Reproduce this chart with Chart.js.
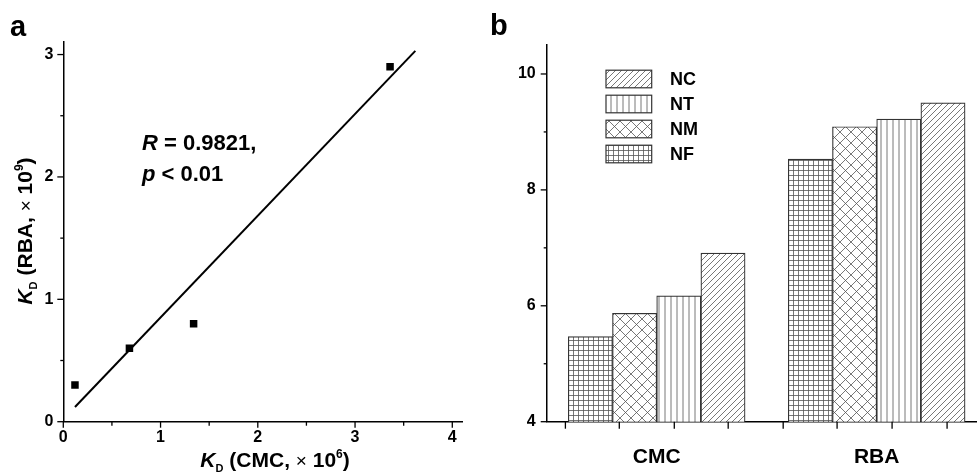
<!DOCTYPE html>
<html>
<head>
<meta charset="utf-8">
<script src="https://cdn.jsdelivr.net/npm/chart.js@4.4.0/dist/chart.umd.min.js"></script>
<style>
  body { margin: 0; background: #fff; }
  #wrap { position: relative; width: 977px; height: 476px; }
  canvas { position: absolute; top: 0; }
</style>
</head>
<body>
<div id="wrap">
  <canvas id="chartA" width="488" height="476" style="left:0"></canvas>
  <canvas id="chartB" width="489" height="476" style="left:488px"></canvas>
</div>
<script>
// ---- panel a : KD by CMC vs KD by RBA
const kdCmc = [0.12, 0.68, 1.34, 3.36];
const kdRba = [0.30, 0.60, 0.80, 2.90];
const fitX = [0.12, 3.62];
const fitY = [0.12, 3.03];
const aXTicks = [0, 1, 2, 3, 4];
const aXMinor = [0.5, 1.5, 2.5, 3.5];
const aYTicks = [0, 1, 2, 3];
const aYMinor = [0.5, 1.5, 2.5];

// ---- panel b : -lg kD per method
const methods = ['CMC', 'RBA'];
const methodPos = [1, 3];
const groups = ['NF', 'NM', 'NT', 'NC'];
const nfVals = [5.47, 8.53];
const nmVals = [5.87, 9.09];
const ntVals = [6.17, 9.22];
const ncVals = [6.91, 9.50];
const legendOrder = ['NC', 'NT', 'NM', 'NF'];
const bYTicks = [4, 6, 8, 10];
const bYMinor = [5, 7, 9];
const bXTicks = [0.17, 0.66, 1.16, 1.65, 2.15, 2.64, 3.14, 3.64];

const FF = '"Liberation Sans", Arial, sans-serif';

// draws a line of mixed-style text, centred (or left) at x,y
function richText(ctx, parts, x, y, angle, align) {
  ctx.save();
  ctx.translate(x, y);
  if (angle) ctx.rotate(angle);
  let total = 0;
  parts.forEach(p => { ctx.font = p.font; total += ctx.measureText(p.text).width + (p.gap || 0); });
  let cx = align === 'left' ? 0 : -total / 2;
  ctx.fillStyle = '#000';
  ctx.textAlign = 'left';
  ctx.textBaseline = 'alphabetic';
  parts.forEach(p => {
    ctx.font = p.font;
    ctx.fillText(p.text, cx, p.dy || 0);
    cx += ctx.measureText(p.text).width + (p.gap || 0);
  });
  ctx.restore();
}

// tick marks drawn from the scales
const tickMarks = {
  id: 'tickMarks',
  afterDraw(chart, args, opts) {
    const ctx = chart.ctx, area = chart.chartArea;
    ctx.save();
    ctx.strokeStyle = '#000';
    ctx.lineWidth = 1.3;
    (opts.marks || []).forEach(m => {
      const sc = chart.scales[m.axis];
      m.values.forEach(v => {
        const p = sc.getPixelForValue(v);
        ctx.beginPath();
        if (m.axis === 'x') { ctx.moveTo(p, area.bottom); ctx.lineTo(p, area.bottom + m.len); }
        else { ctx.moveTo(area.left, p); ctx.lineTo(area.left - m.len, p); }
        ctx.stroke();
      });
    });
    ctx.restore();
  }
};

function fixedTicks(values) {
  return function (scale) { scale.ticks = values.map(v => ({ value: v })); };
}

// ---------------- chart a
const panelAText = {
  id: 'panelAText',
  afterDraw(chart) {
    const ctx = chart.ctx;
    ctx.save();
    ctx.fillStyle = '#000';
    ctx.font = `bold 29px ${FF}`;
    ctx.fillText('a', 10, 36);
    ctx.restore();

    richText(ctx, [
      { text: 'R', font: `italic bold 22px ${FF}` },
      { text: ' = 0.9821,', font: `bold 22px ${FF}` }
    ], 142, 150, 0, 'left');
    richText(ctx, [
      { text: 'p', font: `italic bold 22px ${FF}` },
      { text: ' < 0.01', font: `bold 22px ${FF}` }
    ], 142, 181, 0, 'left');

    const title = (inner, sup) => [
      { text: 'K', font: `italic bold 21px ${FF}` },
      { text: 'D', font: `bold 11px ${FF}`, dy: 5, gap: 6 },
      { text: '(' + inner + ', ', font: `bold 21px ${FF}` },
      { text: '×', font: `19px ${FF}` },
      { text: ' 10', font: `bold 21px ${FF}` },
      { text: sup, font: `bold 12px ${FF}`, dy: -9 },
      { text: ')', font: `bold 21px ${FF}` }
    ];
    richText(ctx, title('CMC', '6'), 275, 467);
    richText(ctx, title('RBA', '9'), 32, 231, -Math.PI / 2);
  }
};

new Chart(document.getElementById('chartA'), {
  type: 'scatter',
  data: {
    datasets: [
      {
        data: kdCmc.map((x, i) => ({ x, y: kdRba[i] })),
        pointStyle: 'rect',
        pointRadius: 5.3,
        backgroundColor: '#000',
        borderColor: '#000',
        borderWidth: 0
      },
      {
        data: fitX.map((x, i) => ({ x, y: fitY[i] })),
        showLine: true,
        pointRadius: 0,
        borderColor: '#000',
        borderWidth: 2
      }
    ]
  },
  options: {
    responsive: false,
    animation: false,
    devicePixelRatio: 1,
    layout: { padding: { top: 41.7, right: 25.3, left: 0, bottom: 0 } },
    plugins: {
      legend: { display: false },
      tooltip: { enabled: false },
      tickMarks: {
        marks: [
          { axis: 'x', values: aXTicks, len: 6 },
          { axis: 'x', values: aXMinor, len: 4 },
          { axis: 'y', values: aYTicks, len: 6 },
          { axis: 'y', values: aYMinor, len: 3 }
        ]
      }
    },
    scales: {
      x: {
        type: 'linear', min: 0, max: 4.107, offset: false,
        afterBuildTicks: fixedTicks(aXTicks),
        afterFit: s => { s.height = 54.3; },
        grid: { display: true, drawOnChartArea: false, drawTicks: false },
        border: { display: true, color: '#000', width: 1.5 },
        ticks: { color: '#000', padding: 6, font: { family: FF, size: 16, weight: 'bold' } }
      },
      y: {
        type: 'linear', min: 0, max: 3.105,
        afterBuildTicks: fixedTicks(aYTicks),
        afterFit: s => { s.width = 63.3; },
        grid: { display: true, drawOnChartArea: false, drawTicks: false },
        border: { display: true, color: '#000', width: 1.5 },
        ticks: { color: '#000', padding: 10, font: { family: FF, size: 16, weight: 'bold' } }
      }
    }
  },
  plugins: [tickMarks, panelAText]
});

// ---------------- chart b
const ctxB = document.getElementById('chartB').getContext('2d');

function makePattern(size, draw) {
  const c = document.createElement('canvas');
  c.width = size; c.height = size;
  const g = c.getContext('2d');
  g.fillStyle = '#fff';
  g.fillRect(0, 0, size, size);
  g.strokeStyle = '#555';
  g.lineWidth = 0.8;
  g.beginPath();
  draw(g, size);
  g.stroke();
  return ctxB.createPattern(c, 'repeat');
}

const patterns = {
  NC: makePattern(6, (g, s) => {
    g.moveTo(0, s); g.lineTo(s, 0);
    g.moveTo(-1, 1); g.lineTo(1, -1);
    g.moveTo(s - 1, s + 1); g.lineTo(s + 1, s - 1);
  }),
  NT: makePattern(6, (g, s) => { g.moveTo(3, 0); g.lineTo(3, s); }),
  NM: makePattern(11, (g, s) => {
    g.moveTo(0, 0); g.lineTo(s, s);
    g.moveTo(0, s); g.lineTo(s, 0);
  }),
  NF: makePattern(5, (g, s) => {
    g.moveTo(0.5, 0); g.lineTo(0.5, s);
    g.moveTo(0, 0.5); g.lineTo(s, 0.5);
  })
};

const groupVals = { NF: nfVals, NM: nmVals, NT: ntVals, NC: ncVals };

const panelBText = {
  id: 'panelBText',
  afterDraw(chart) {
    const ctx = chart.ctx;
    ctx.save();
    ctx.fillStyle = '#000';
    ctx.font = `bold 29px ${FF}`;
    ctx.fillText('b', 2, 35);

    // legend
    legendOrder.forEach((g, i) => {
      const cy = 79 + i * 25;
      ctx.fillStyle = patterns[g];
      ctx.fillRect(118, cy - 8.8, 45.7, 17.6);
      ctx.strokeStyle = '#333';
      ctx.lineWidth = 1.2;
      ctx.strokeRect(118, cy - 8.8, 45.7, 17.6);
      ctx.fillStyle = '#000';
      ctx.font = `bold 18px ${FF}`;
      ctx.textBaseline = 'middle';
      ctx.fillText(g, 182, cy + 1);
    });
    ctx.restore();

    richText(ctx, [
      { text: '-lg ', font: `bold 19px ${FF}` },
      { text: 'k', font: `italic bold 19px ${FF}` },
      { text: 'D', font: `bold 10px ${FF}`, dy: 5 }
    ], 508, 214, -Math.PI / 2);
  }
};

new Chart(ctxB, {
  type: 'bar',
  data: {
    datasets: groups.map(g => ({
      label: g,
      data: methodPos.map((x, j) => ({ x, y: groupVals[g][j] })),
      backgroundColor: patterns[g],
      borderColor: '#333',
      borderWidth: 1.2,
      borderSkipped: false,
      barThickness: 44.2
    }))
  },
  options: {
    responsive: false,
    animation: false,
    devicePixelRatio: 1,
    layout: { padding: { top: 45, right: 0, left: 0, bottom: 0 } },
    plugins: {
      legend: { display: false },
      tooltip: { enabled: false },
      tickMarks: {
        marks: [
          { axis: 'x', values: bXTicks, len: 7 },
          { axis: 'y', values: bYTicks, len: 6 },
          { axis: 'y', values: bYMinor, len: 3 }
        ]
      }
    },
    scales: {
      x: {
        type: 'linear', min: 0, max: 3.912, offset: false,
        afterBuildTicks: fixedTicks(methodPos),
        afterFit: s => { s.height = 54.3; },
        grid: { display: true, offset: false, drawOnChartArea: false, drawTicks: false },
        border: { display: true, color: '#000', width: 1.5 },
        ticks: {
          color: '#000', padding: 23,
          font: { family: FF, size: 21, weight: 'bold' },
          callback: v => methods[methodPos.indexOf(v)]
        }
      },
      y: {
        type: 'linear', min: 4, max: 10.5,
        afterBuildTicks: fixedTicks(bYTicks),
        afterFit: s => { s.width = 58.7; },
        grid: { display: true, drawOnChartArea: false, drawTicks: false },
        border: { display: true, color: '#000', width: 1.5 },
        ticks: { color: '#000', padding: 11, font: { family: FF, size: 16, weight: 'bold' } }
      }
    }
  },
  plugins: [tickMarks, panelBText]
});
</script>
</body>
</html>
